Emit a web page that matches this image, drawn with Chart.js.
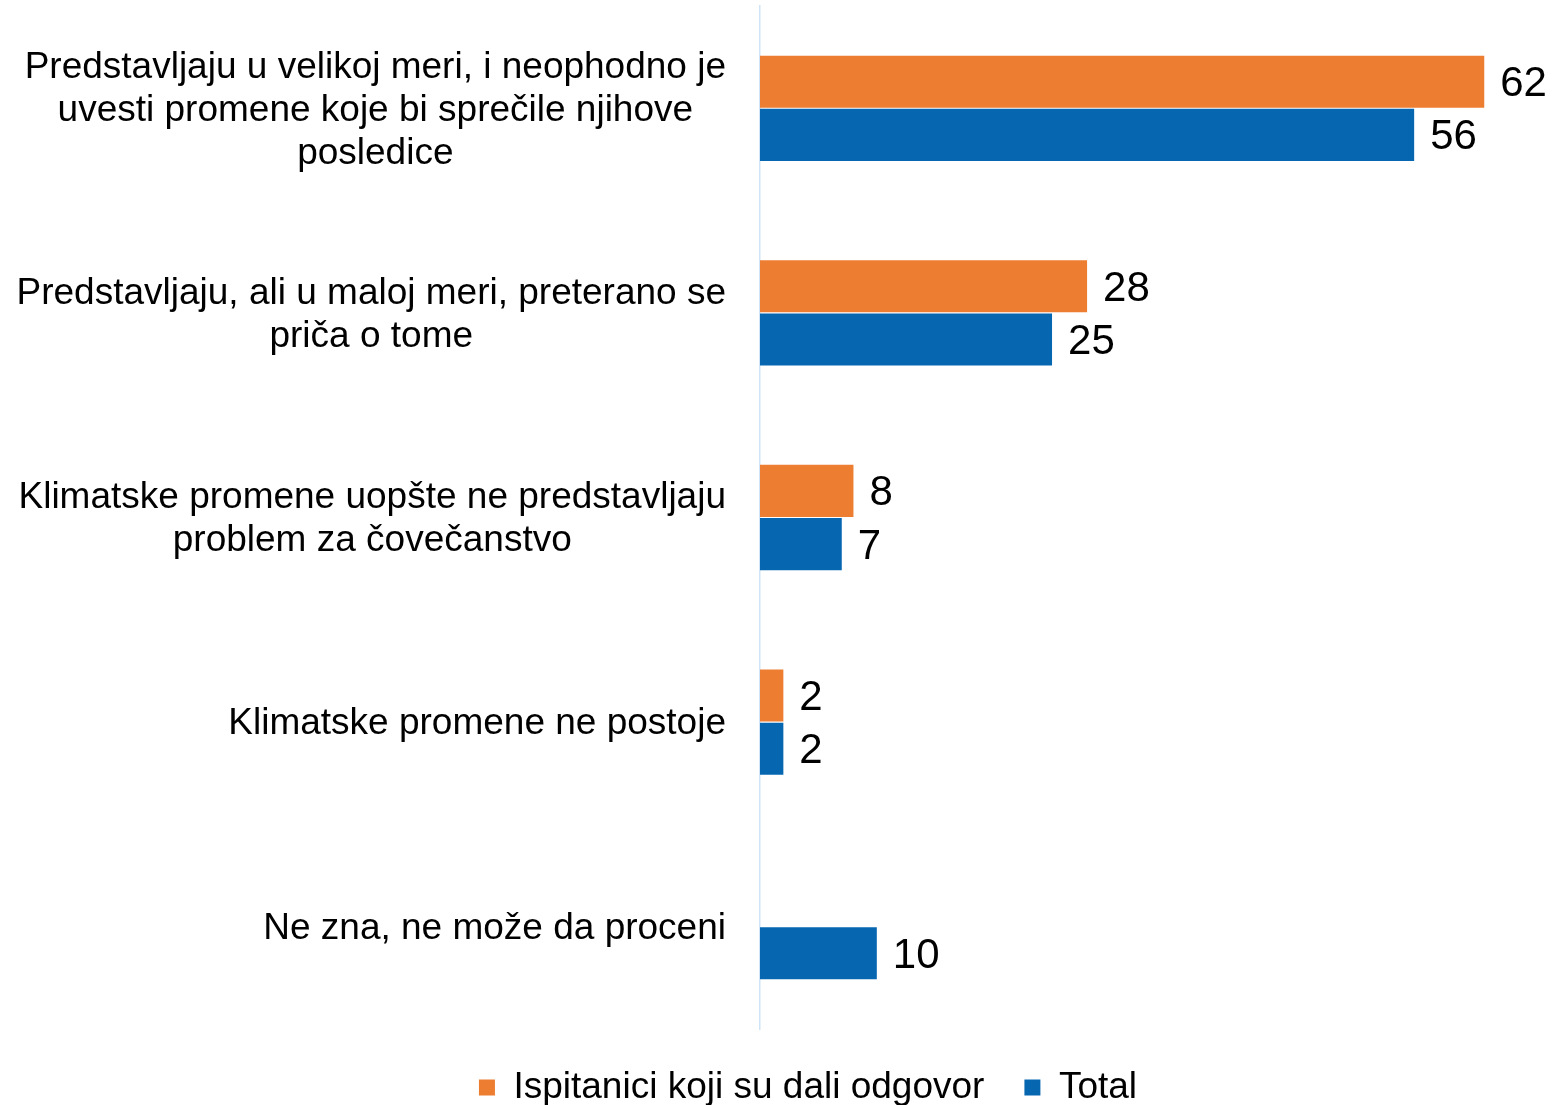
<!DOCTYPE html>
<html>
<head>
<meta charset="utf-8">
<script src="https://cdn.jsdelivr.net/npm/chart.js@4/dist/chart.umd.min.js"></script>
<style>
  html, body { margin: 0; padding: 0; background: #fff; }
  #wrap { width: 1552px; height: 1105px; }
</style>
</head>
<body>
<div id="wrap"><canvas id="chart" width="1552" height="1105"></canvas></div>
<script>
// ── Data ────────────────────────────────────────────────
const CATEGORIES = [
  ['Predstavljaju u velikoj meri, i neophodno je', 'uvesti promene koje bi sprečile njihove', 'posledice'],
  ['Predstavljaju, ali u maloj meri, preterano se', 'priča o tome'],
  ['Klimatske promene uopšte ne predstavljaju', 'problem za čovečanstvo'],
  ['Klimatske promene ne postoje'],
  ['Ne zna, ne može da proceni'],
];
const SERIES_NAMES = ['Ispitanici koji su dali odgovor', 'Total'];
const RESPONDENTS = [62, 28, 8, 2, null];
const TOTAL       = [56, 25, 7, 2, 10];

const ORANGE = '#ED7D31';
const BLUE   = '#0667B0';
const FONT   = '"Liberation Sans", Arial, sans-serif';

// Category labels: each multi-line block is right-aligned, its lines centred on the widest one.
const categoryLabels = {
  id: 'categoryLabels',
  afterDraw(chart) {
    const { ctx, chartArea } = chart;
    const y = chart.scales.y;
    const right = chartArea.left - 34;
    const lh = 43;
    ctx.save();
    ctx.font = '37px ' + FONT;
    ctx.fillStyle = '#000';
    ctx.textAlign = 'center';
    ctx.textBaseline = 'middle';
    CATEGORIES.forEach((lines, i) => {
      const cy = y.getPixelForValue(i) + 2;
      const maxW = Math.max(...lines.map(l => ctx.measureText(l).width));
      const cx = right - maxW / 2;
      const top = cy - (lines.length - 1) * lh / 2;
      lines.forEach((l, j) => ctx.fillText(l, cx, top + j * lh));
    });
    ctx.restore();
  },
};

// Value labels to the right of every bar.
const valueLabels = {
  id: 'valueLabels',
  afterDatasetsDraw(chart) {
    const { ctx } = chart;
    ctx.save();
    ctx.font = '42px ' + FONT;
    ctx.fillStyle = '#000';
    ctx.textAlign = 'left';
    ctx.textBaseline = 'middle';
    chart.data.datasets.forEach((ds, di) => {
      chart.getDatasetMeta(di).data.forEach((el, i) => {
        const v = ds.data[i];
        if (v == null) return;
        ctx.fillText(String(v), el.x + 16, el.y + 3);
      });
    });
    ctx.restore();
  },
};

new Chart(document.getElementById('chart'), {
  type: 'bar',
  data: {
    labels: CATEGORIES.map(c => c.join(' ')),
    datasets: [
      { label: SERIES_NAMES[0], data: RESPONDENTS, backgroundColor: ORANGE },
      { label: SERIES_NAMES[1], data: TOTAL,       backgroundColor: BLUE },
    ],
  },
  options: {
    indexAxis: 'y',
    responsive: false,
    animation: false,
    devicePixelRatio: 1,
    categoryPercentage: 0.52,
    barPercentage: 0.98,
    layout: { padding: { top: 6, left: 64, right: 0, bottom: 0 } },
    scales: {
      x: { display: false, min: 0, max: 67.8 },
      y: {
        ticks: { display: false },
        grid: { display: false },
        border: { display: true, color: '#CFE4F6', width: 1.5 },
        afterFit: s => { s.width = 696; },
      },
    },
    plugins: {
      tooltip: { enabled: false },
      legend: {
        position: 'bottom',
        maxHeight: 76,
        labels: {
          color: '#000',
          font: { family: FONT, size: 37 },
          boxWidth: 16,
          boxHeight: 16,
          padding: 40,
        },
      },
    },
  },
  plugins: [categoryLabels, valueLabels],
});
</script>
</body>
</html>
